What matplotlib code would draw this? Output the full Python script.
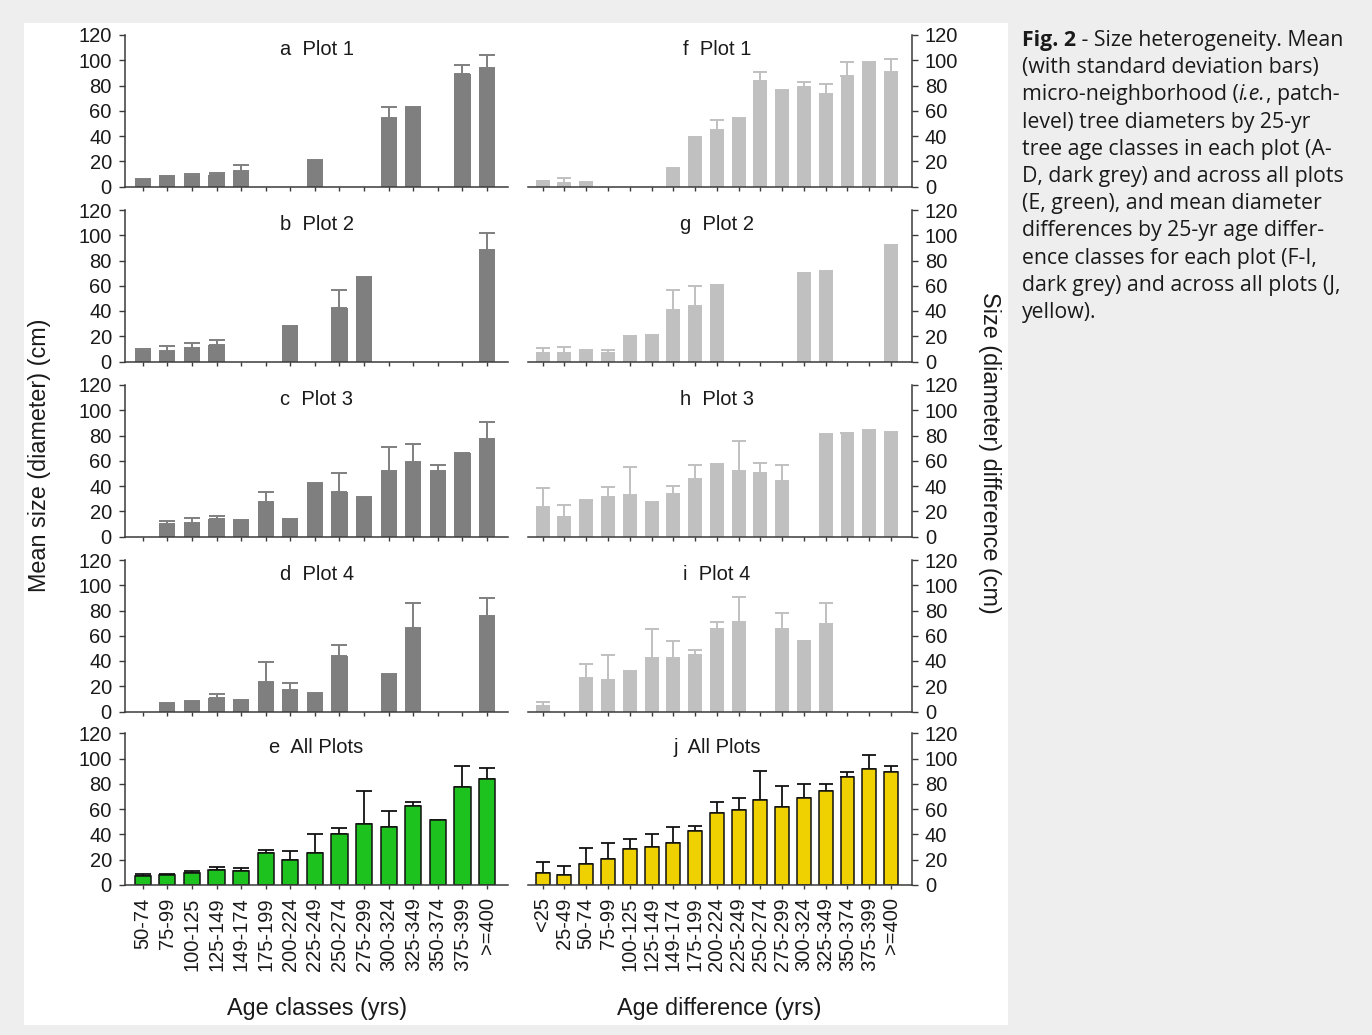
import numpy as np
import matplotlib
matplotlib.use("Agg")
import matplotlib.pyplot as plt
from matplotlib.patches import Rectangle

plt.rcParams['font.family'] = ['Liberation Sans', 'DejaVu Sans']

nan = np.nan

#%% data

age_classes = ["50-74", "75-99", "100-125", "125-149", "149-174", "175-199", "200-224",
               "225-249", "250-274", "275-299", "300-324", "325-349", "350-374",
               "375-399", ">=400"]
age_diff_classes = ["<25", "25-49"] + age_classes

# mean tree diameter by age class (cm), panels a-e
plot1_mean = [6, 8, 8, 9, 12.5, nan, nan, 21, nan, nan, 54, 63, nan, 89, 94]
plot1_sd = [nan, nan, 2, 2, 4.5, nan, nan, nan, nan, nan, 9, nan, nan, 7, 10.5]
plot2_mean = [8, 8.5, 11, 13, nan, nan, 28, nan, 42.5, 67, nan, nan, nan, nan, 88]
plot2_sd = [2, 3.5, 3.5, 4, nan, nan, nan, nan, 14.5, nan, nan, nan, nan, nan, 13.5]
plot3_mean = [nan, 10, 10.5, 14, 13, 27, 14, 42, 35.5, 31, 52, 59, 52, 66, 77.5]
plot3_sd = [nan, 2, 4.5, 2, nan, 8, nan, nan, 14.5, nan, 19, 14, 5, nan, 13.5]
plot4_mean = [nan, 7, 8, 10.5, 9, 23.5, 17, 15, 44, nan, 30, 66, nan, nan, 76]
plot4_sd = [nan, nan, nan, 3.5, nan, 15.5, 5.5, nan, 9, nan, nan, 20, nan, nan, 14]
all_mean = [7, 7.5, 9, 11.5, 11, 25, 20, 25.5, 40, 48.5, 45.5, 62.5, 51.5, 77.5, 84]
all_sd = [1.3, 1.3, 1.6, 2.4, 2.5, 2.5, 7, 14.5, 5.3, 25.5, 13.3, 3.3, nan, 16.5, 8.5]

# mean diameter difference by age difference class (cm), panels f-j
dplot1_mean = [2.6, 3, 3.4, nan, nan, nan, 15, 39, 45, 54.5, 83.5, 76.5, 78.5, 73.5, 87.5, 99, 91]
dplot1_sd = [1.6, 3.6, nan, nan, nan, nan, nan, nan, 8, nan, 7, nan, 4.3, 7.5, 11.5, nan, 10]
dplot2_mean = [7, 6.5, 7.5, 6.5, 20.5, 21, 40.5, 44, 60.5, nan, nan, nan, 69, 72, nan, nan, 92]
dplot2_sd = [3.6, 4.7, 2, 2.7, nan, nan, 16, 15.5, nan, nan, nan, nan, 1.2, nan, nan, nan, nan]
dplot3_mean = [23, 15.5, 29, 31, 33, 27, 33.5, 45.5, 56, 51.5, 50, 44, nan, 81.5, 82, 84, 83]
dplot3_sd = [15.5, 9.5, nan, 8, 22, nan, 6.5, 11.5, 1.2, 24.5, 8.5, 12.5, nan, nan, nan, nan, nan]
dplot4_mean = [4.7, nan, 26.5, 25, 32, 42, 42.5, 45, 65.5, 71, nan, 65.5, 56, 69.5, nan, nan, nan]
dplot4_sd = [2.8, nan, 11, 20, nan, 23.5, 13.5, 3.4, 5, 20, nan, 12.5, nan, 16.5, nan, nan, nan]
dall_mean = [9, 8, 16.5, 20.5, 28.5, 30, 33, 43, 56.5, 59, 67, 61.5, 68.5, 74, 85, 91.5, 89]
dall_sd = [9.3, 6.5, 13, 12.7, 7.5, 10.5, 12.5, 3.3, 8.8, 10, 23.5, 16.5, 11.3, 5.5, 4, 11.2, 5.3]

left_titles = ["a  Plot 1", "b  Plot 2", "c  Plot 3", "d  Plot 4", "e  All Plots"]
right_titles = ["f  Plot 1", "g  Plot 2", "h  Plot 3", "i  Plot 4", "j  All Plots"]
left_data = [(plot1_mean, plot1_sd), (plot2_mean, plot2_sd), (plot3_mean, plot3_sd),
             (plot4_mean, plot4_sd), (all_mean, all_sd)]
right_data = [(dplot1_mean, dplot1_sd), (dplot2_mean, dplot2_sd), (dplot3_mean, dplot3_sd),
              (dplot4_mean, dplot4_sd), (dall_mean, dall_sd)]

caption_lines = [
    [("Fig. 2", "bold", "normal"), (" - Size heterogeneity. Mean", "normal", "normal")],
    [("(with standard deviation bars)", "normal", "normal")],
    [("micro-neighborhood (", "normal", "normal"), ("i.e.", "normal", "italic"),
     (", patch-", "normal", "normal")],
    [("level) tree diameters by 25-yr", "normal", "normal")],
    [("tree age classes in each plot (A-", "normal", "normal")],
    [("D, dark grey) and across all plots", "normal", "normal")],
    [("(E, green), and mean diameter", "normal", "normal")],
    [("differences by 25-yr age differ-", "normal", "normal")],
    [("ence classes for each plot (F-I,", "normal", "normal")],
    [("dark grey) and across all plots (J,", "normal", "normal")],
    [("yellow).", "normal", "normal")],
]

#%% style

W, H = 1372, 1035
FS = 14.5
LABEL_FS = 16.8
TXT = "#1a1a1a"
AXC = "#3a3a3a"
DARK = "#7f7f7f"
LIGHT = "#c0c0c0"
GREEN = "#1ec21e"
YELLOW = "#efd000"

fig = plt.figure(figsize=(W / 100, H / 100), dpi=100, facecolor="#eeeeee")

bg = fig.add_axes([0, 0, 1, 1], zorder=-5)
bg.set_xlim(0, W)
bg.set_ylim(H, 0)
bg.axis("off")
bg.add_patch(Rectangle((24, 23), 984, 1002, facecolor="white", edgecolor="none"))


def px_axes(x0, x1, ytop, ybot):
    return fig.add_axes([x0 / W, 1 - ybot / H, (x1 - x0) / W, (ybot - ytop) / H])


row_tops = [35, 210, 385, 560, 733.3]
row_h = 151.5


def style_axes(ax, side):
    ax.set_ylim(0, 120)
    ax.set_yticks(range(0, 121, 20))
    ax.spines["top"].set_visible(False)
    hide = "right" if side == "left" else "left"
    ax.spines[hide].set_visible(False)
    for s in ("left", "right", "bottom"):
        ax.spines[s].set_color(AXC)
        ax.spines[s].set_linewidth(1.1)
    ax.set_facecolor("none")
    if side == "right":
        ax.yaxis.tick_right()
    ax.tick_params(axis="y", direction="out", length=4.5, width=1, color=AXC,
                   labelsize=FS, labelcolor=TXT, pad=5)
    ax.tick_params(axis="x", direction="out", length=3, width=1, color=AXC,
                   labelsize=FS, labelcolor=TXT, pad=6)


for i in range(5):
    top = row_tops[i]

    # left column: age classes
    ax = px_axes(125, 508, top, top + row_h)
    mean, sd = left_data[i]
    x = np.arange(len(age_classes))
    if i < 4:
        ax.bar(x, mean, width=0.66, color=DARK, zorder=2)
        ax.errorbar(x, mean, yerr=[np.zeros(len(x)), sd], fmt="none", ecolor=DARK,
                    elinewidth=1.4, capsize=5.8, capthick=1.4, zorder=1)
    else:
        ax.bar(x, mean, width=0.66, color=GREEN, edgecolor="#111111", linewidth=1.1, zorder=2)
        ax.errorbar(x, mean, yerr=[np.zeros(len(x)), sd], fmt="none", ecolor="#111111",
                    elinewidth=1.3, capsize=5.8, capthick=1.3, zorder=1)
    ax.set_xlim(-0.72, 14.85)
    style_axes(ax, "left")
    ax.set_xticks(x)
    if i == 4:
        ax.set_xticklabels(age_classes, rotation=90)
    else:
        ax.set_xticklabels([])
    ax.text(7.07, 104, left_titles[i], ha="center", va="baseline", fontsize=FS, color=TXT)

    # right column: age differences
    ax = px_axes(528, 911.7, top, top + row_h)
    mean, sd = right_data[i]
    x = np.arange(len(age_diff_classes))
    if i < 4:
        ax.bar(x, mean, width=0.64, color=LIGHT, zorder=2)
        ax.errorbar(x, mean, yerr=[np.zeros(len(x)), sd], fmt="none", ecolor=LIGHT,
                    elinewidth=1.4, capsize=5, capthick=1.4, zorder=1)
    else:
        ax.bar(x, mean, width=0.64, color=YELLOW, edgecolor="#111111", linewidth=1.1, zorder=2)
        ax.errorbar(x, mean, yerr=[np.zeros(len(x)), sd], fmt="none", ecolor="#111111",
                    elinewidth=1.3, capsize=5, capthick=1.3, zorder=1)
    ax.set_xlim(-0.675, 16.95)
    style_axes(ax, "right")
    ax.set_xticks(x)
    if i == 4:
        ax.set_xticklabels(age_diff_classes, rotation=90)
    else:
        ax.set_xticklabels([])
    ax.text(8.0, 104, right_titles[i], ha="center", va="baseline", fontsize=FS, color=TXT)

# axis titles
bg.text(40, 455, "Mean size (diameter) (cm)", rotation=90, ha="center", va="center",
        fontsize=LABEL_FS, color=TXT)
bg.text(990, 453, "Size (diameter) difference (cm)", rotation=270, ha="center", va="center",
        fontsize=LABEL_FS, color=TXT)
bg.text(317, 1008, "Age classes (yrs)", ha="center", va="center", fontsize=LABEL_FS, color=TXT)
bg.text(719, 1008, "Age difference (yrs)", ha="center", va="center", fontsize=LABEL_FS, color=TXT)

# caption, one line at a time so bold / italic runs sit inline
CAP_FONT = ["Open Sans", "DejaVu Sans"]
CAP_FS = 15.3
for k, runs in enumerate(caption_lines):
    y = 46 + 27.2 * k
    prev = None
    for text, weight, style in runs:
        if prev is None:
            prev = bg.text(1022, y, text, ha="left", va="baseline", fontsize=CAP_FS,
                           fontweight=weight, fontstyle=style, family=CAP_FONT, color=TXT)
        else:
            prev = bg.annotate(text, xy=(1, 0), xycoords=prev, ha="left", va="bottom",
                               fontsize=CAP_FS, fontweight=weight, fontstyle=style,
                               family=CAP_FONT, color=TXT)

fig.savefig("out.png", dpi=100, facecolor=fig.get_facecolor())
